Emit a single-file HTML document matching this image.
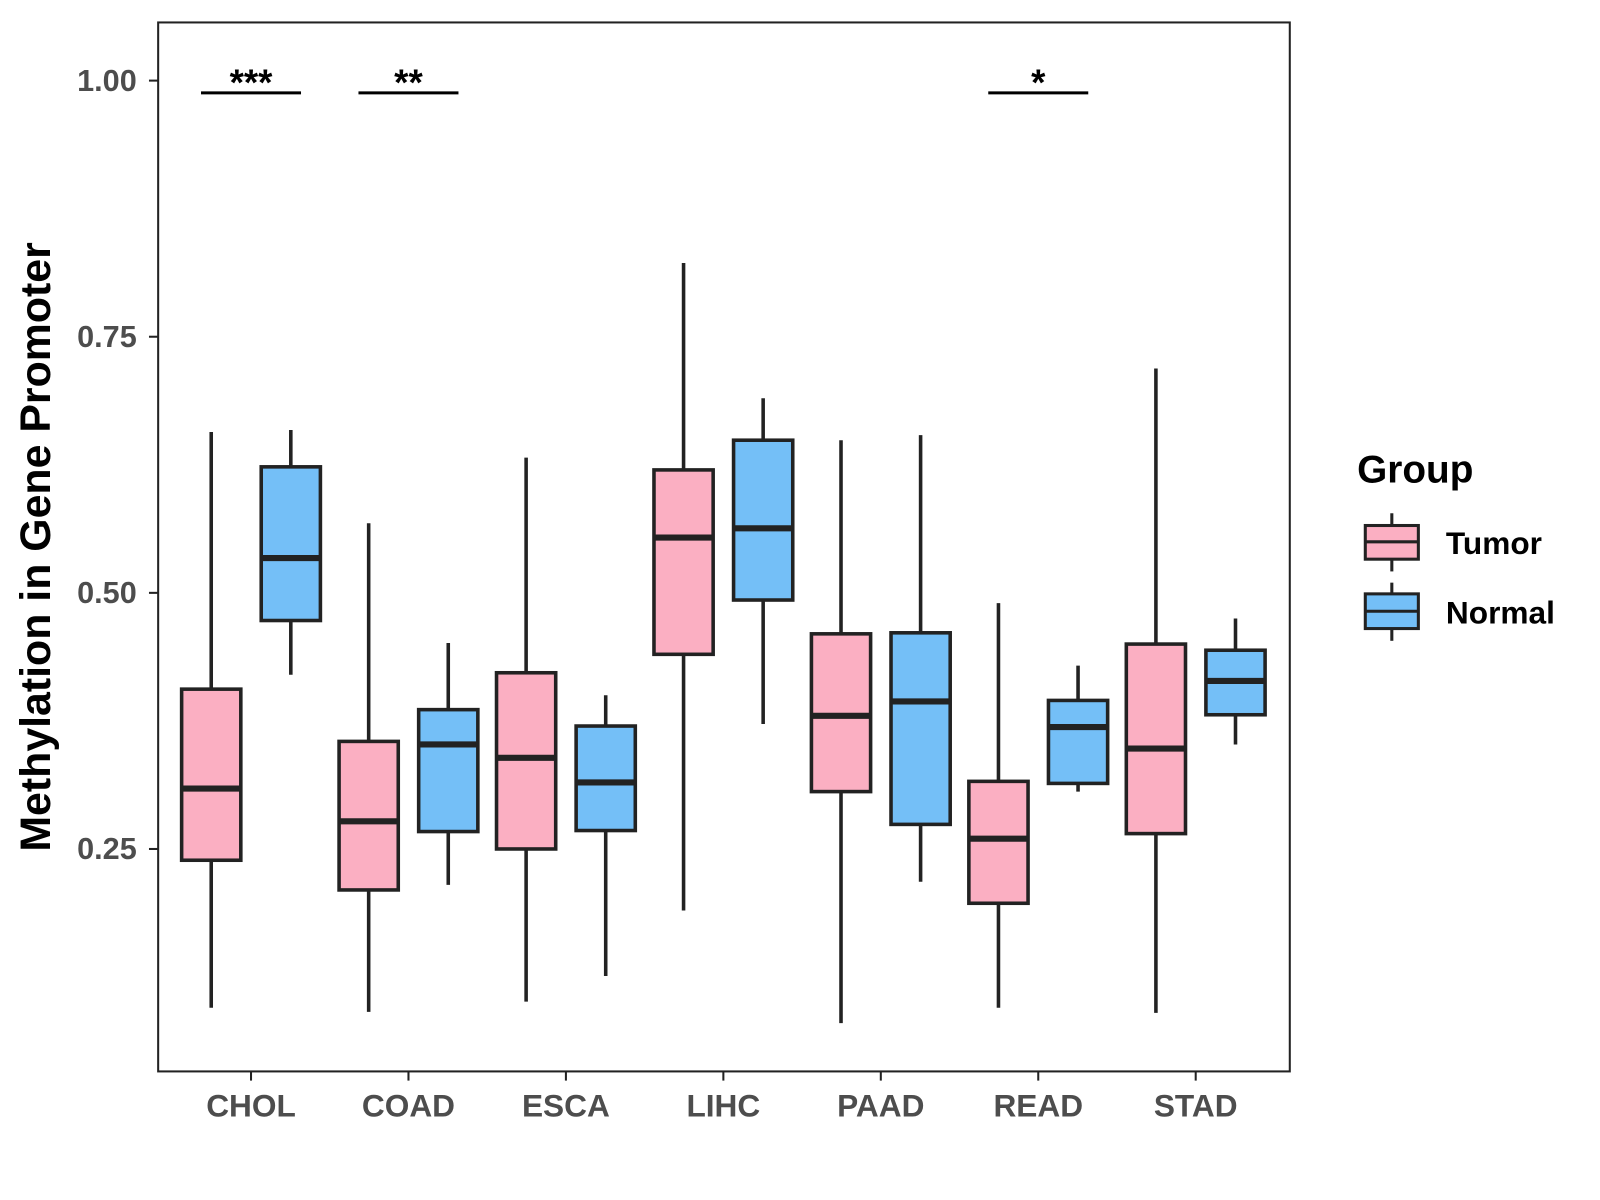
<!DOCTYPE html>
<html><head><meta charset="utf-8">
<style>
html,body{margin:0;padding:0;background:#fff;}
svg{display:block;font-family:"Liberation Sans",Arial,sans-serif;}
</style></head>
<body>
<svg id="chart" width="1600" height="1200" viewBox="0 0 1600 1200">
 <g transform="scale(1.0204)">
  <rect x="155" y="22" width="1109" height="1028" fill="#fff" stroke="#222" stroke-width="2"/>
  <g id="yaxis"></g>
  <g id="xaxis"></g>
  <g id="boxes"></g>
  <g id="sig"></g>
  <text x="38" y="536" transform="rotate(-90 38 536)" text-anchor="middle" dominant-baseline="middle" font-size="42" font-weight="bold" fill="#000">Methylation in Gene Promoter</text>
  <g>
    <text x="1330" y="473" font-size="38" font-weight="bold" fill="#000">Group</text>
    <g>
      <line x1="1364" y1="503" x2="1364" y2="560" stroke="#222" stroke-width="3"/>
      <rect x="1338" y="515" width="52" height="33" fill="#fbafc2" stroke="#222" stroke-width="3"/>
      <line x1="1338" y1="531" x2="1390" y2="531" stroke="#222" stroke-width="3"/>
      <text x="1417" y="543" font-size="31" font-weight="bold" fill="#000">Tumor</text>
    </g>
    <g>
      <line x1="1364" y1="571" x2="1364" y2="628" stroke="#222" stroke-width="3"/>
      <rect x="1338" y="582" width="52" height="34" fill="#74bff7" stroke="#222" stroke-width="3"/>
      <line x1="1338" y1="599" x2="1390" y2="599" stroke="#222" stroke-width="3"/>
      <text x="1417" y="611" font-size="31" font-weight="bold" fill="#000">Normal</text>
    </g>
  </g>
 </g>
</svg>
<script>
const categories = ["CHOL","COAD","ESCA","LIHC","PAAD","READ","STAD"];
// [lowWhisker, q1, median, q3, highWhisker]
const tumorStats = [
  [0.095,0.239,0.309,0.406,0.657],
  [0.091,0.210,0.277,0.355,0.568],
  [0.101,0.250,0.339,0.422,0.632],
  [0.190,0.440,0.554,0.620,0.822],
  [0.080,0.306,0.380,0.460,0.649],
  [0.095,0.197,0.260,0.316,0.490],
  [0.090,0.265,0.348,0.450,0.719]
];
const normalStats = [
  [0.420,0.473,0.534,0.623,0.659],
  [0.215,0.267,0.352,0.386,0.451],
  [0.126,0.268,0.315,0.370,0.400],
  [0.372,0.493,0.563,0.649,0.690],
  [0.218,0.274,0.394,0.461,0.654],
  [0.306,0.314,0.369,0.395,0.429],
  [0.352,0.381,0.414,0.444,0.475]
];
const yTicks = [0.25,0.50,0.75,1.00];
const yTickLabels = ["0.25","0.50","0.75","1.00"];
const sigCategories = ["CHOL","COAD","READ"];
const sigLabels = ["***","**","*"];
const sigLevel = 0.988;

const NS = "http://www.w3.org/2000/svg";
function yS(v){ return 79 + (1 - v) * 1004; }
function xS(i){ return 246 + i * 154.3; }
function mk(tag, attrs, parent){
  const e = document.createElementNS(NS, tag);
  for (const k in attrs) e.setAttribute(k, attrs[k]);
  parent.appendChild(e); return e;
}
const yax = document.getElementById("yaxis");
yTicks.forEach((t,i)=>{
  const l = mk("line",{x1:146,x2:155,y1:yS(t),y2:yS(t),stroke:"#222","stroke-width":2},yax);
  
  
  const tx = mk("text",{x:134,y:yS(t)+10,"text-anchor":"end","font-size":30,"font-weight":"bold",fill:"#4d4d4d"},yax);
  tx.textContent = yTickLabels[i];
  
  
});
const xax = document.getElementById("xaxis");
categories.forEach((c,i)=>{
  const l = mk("line",{x1:xS(i),x2:xS(i),y1:1050,y2:1059,stroke:"#222","stroke-width":2},xax);
  
  
  const tx = mk("text",{x:xS(i),y:1094,"text-anchor":"middle","font-size":31,"font-weight":"bold",fill:"#4d4d4d"},xax);
  tx.textContent = c;
  
  
});
const bx = document.getElementById("boxes");
function drawBox(s, cx, fill, name){
  const g = mk("g",{},bx);
  
  
  mk("line",{x1:cx,x2:cx,y1:yS(s[4]),y2:yS(s[0]),stroke:"#222","stroke-width":3.5},g);
  mk("rect",{x:cx-29,y:yS(s[3]),width:58,height:yS(s[1])-yS(s[3]),fill:fill,stroke:"#222","stroke-width":3.5},g);
  mk("line",{x1:cx-29,x2:cx+29,y1:yS(s[2]),y2:yS(s[2]),stroke:"#222","stroke-width":6},g);
}
categories.forEach((c,i)=>{
  drawBox(tumorStats[i], xS(i)-39, "#fbafc2", "box-tumor-"+c.toLowerCase());
  drawBox(normalStats[i], xS(i)+39, "#74bff7", "box-normal-"+c.toLowerCase());
});
const sg = document.getElementById("sig");
sigCategories.forEach((c,k)=>{
  const i = categories.indexOf(c);
  const l = mk("line",{x1:xS(i)-49,x2:xS(i)+49,y1:yS(sigLevel),y2:yS(sigLevel),stroke:"#000","stroke-width":3},sg);
  
  
  const t = mk("text",{x:xS(i),y:yS(sigLevel)+2,"text-anchor":"middle","font-size":36,"font-weight":"bold",fill:"#000"},sg);
  t.textContent = sigLabels[k];
  
  
});
</script>
</body></html>
